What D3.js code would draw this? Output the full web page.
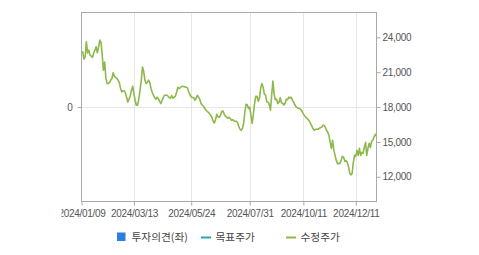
<!DOCTYPE html>
<html>
<head>
<meta charset="utf-8">
<script src="https://cdn.jsdelivr.net/npm/d3@7"></script>
<style>
  body { margin: 0; background: #fff; }
  svg { display: block; }
  .tick text { fill: #555; }
</style>
</head>
<body>
<svg width="479" height="255"></svg>
<script>
// adjusted close, one value per trading day from 2024/01/09
const closes = [
  22620,22760,22130,22330,23620,22650,22900,22470,22390,22270,
  22650,22900,23190,22670,23160,23770,23590,22470,21180,21870,
  20490,20030,20030,20100,20320,20460,20950,20660,20570,20460,
  20320,20100,19630,19300,19410,19410,19220,18850,18440,18680,
  18980,19450,19800,19110,18590,18160,18160,18680,19450,20230,
  21440,21090,20320,20030,20140,20320,20140,19600,19280,19020,
  18810,18680,18850,18720,18500,18300,18550,18760,19020,19020,
  19020,18930,18810,18760,18980,18760,18850,18930,19280,19710,
  19600,19670,19750,19800,19750,19740,19710,19630,19300,19060,
  18870,18820,18810,18590,18740,19020,18850,18680,18330,18160,
  18070,17900,17730,17640,17550,17420,17290,17120,16780,16630,
  16950,17380,17150,17120,17290,17600,17670,17420,17210,17150,
  17040,17120,17010,16860,16910,16820,16780,16780,16670,16350,
  16090,16000,16150,16600,17550,18240,18200,17870,17990,17290,
  16600,17380,18330,18930,18930,18500,18760,19630,20030,19710,
  19110,19020,18440,18420,18240,17730,19020,20230,19110,18630,
  18680,18300,18420,18810,18370,18330,18160,18330,18680,18630,
  18850,18760,18850,18590,18420,18200,18030,17940,17900,17870,
  17770,17600,17420,17250,17120,17040,16910,16780,16560,16350,
  16130,16000,16090,16090,16090,16170,16220,16260,16430,16430,
  16260,16000,15830,15570,14960,14450,15140,14270,13840,13410,
  13130,13130,13150,13410,13760,13670,13330,13410,13240,12890,
  12320,12160,12290,13240,13840,13760,14270,13840,14450,13840,
  14100,14020,14530,14960,13840,14450,14880,14530,15050,15140,
  15440,15660,15480
];

const tickIdx = [0, 43, 90, 138, 182, 225];
const tickLabels = ["2024/01/09", "2024/03/13", "2024/05/24", "2024/07/31", "2024/10/11", "2024/12/11"];
const priceTicks = [12000, 15000, 18000, 21000, 24000];
const opinionTicks = [0];

const legendNames = ["투자의견(좌)", "목표주가", "수정주가"];
const legendColors = ["#2b7de1", "#26a5b5", "#8db84a"];

const plotL = 81.5, plotR = 376.5, plotT = 12.5, plotB = 201.5;

const svg = d3.select("svg");

const x = d3.scaleLinear().domain([0, closes.length - 1]).range([plotL, plotR]);
const yR = d3.scaleLinear().domain([9870, 26140]).range([plotB, plotT]);
const yL = d3.scaleLinear().domain([-1, 1]).range([plotB, plotT]);

// grid
svg.append("g")
  .selectAll("line")
  .data(tickIdx.slice(1))
  .join("line")
  .attr("x1", d => Math.round(x(d)) + 0.5).attr("x2", d => Math.round(x(d)) + 0.5)
  .attr("y1", plotT).attr("y2", plotB)
  .attr("stroke", "#e6e6e6");

svg.append("g")
  .selectAll("line")
  .data(opinionTicks)
  .join("line")
  .attr("x1", plotL).attr("x2", plotR)
  .attr("y1", d => Math.round(yL(d)) + 0.5).attr("y2", d => Math.round(yL(d)) + 0.5)
  .attr("stroke", "#e6e6e6");

// price line
const line = d3.line()
  .x((d, i) => x(i))
  .y(d => yR(d));

svg.append("path")
  .datum(closes)
  .attr("fill", "none")
  .attr("stroke", legendColors[2])
  .attr("stroke-width", 1.6)
  .attr("stroke-linejoin", "round")
  .attr("d", line);

// frame
svg.append("rect")
  .attr("x", plotL).attr("y", plotT)
  .attr("width", plotR - plotL).attr("height", plotB - plotT)
  .attr("fill", "none")
  .attr("stroke", "#aaa");

// axes
const styleAxis = g => {
  g.select(".domain").remove();
  g.selectAll(".tick line").attr("stroke", "#aaa");
  g.selectAll(".tick text")
    .attr("font-family", "'Liberation Sans', Arial, sans-serif")
    .attr("font-size", "10px")
    .attr("letter-spacing", "-0.3px");
};

svg.append("defs").append("clipPath").attr("id", "clipx")
  .append("rect").attr("x", 61.5).attr("y", 0).attr("width", 419).attr("height", 255);

svg.append("g")
  .attr("transform", `translate(0,${plotB})`)
  .attr("clip-path", "url(#clipx)")
  .call(d3.axisBottom(x).tickValues(tickIdx).tickSize(4).tickPadding(4)
    .tickFormat((d, i) => tickLabels[i]))
  .call(styleAxis);

svg.append("g")
  .attr("transform", `translate(${plotR},0)`)
  .call(d3.axisRight(yR).tickValues(priceTicks).tickSize(4).tickPadding(2)
    .tickFormat(d3.format(",")))
  .call(styleAxis);

svg.append("g")
  .attr("transform", `translate(${plotL},0)`)
  .call(d3.axisLeft(yL).tickValues(opinionTicks).tickSize(4).tickPadding(5)
    .tickFormat(d3.format("d")))
  .call(styleAxis);

// legend
const legendX = [117, 201, 286];
const legendY = 237;
const lg = svg.append("g")
  .attr("font-family", "'Noto Sans CJK KR', 'Noto Sans', sans-serif")
  .attr("font-size", "10.7px")
  .attr("fill", "#444");

legendNames.forEach((name, i) => {
  const item = lg.append("g").attr("transform", `translate(${legendX[i]},${legendY})`);
  if (i === 0) {
    item.append("rect").attr("x", 0).attr("y", -4.5).attr("width", 8.5).attr("height", 8.5)
      .attr("fill", legendColors[i]);
  } else {
    item.append("line").attr("x1", 0).attr("x2", 10).attr("y1", 0.5).attr("y2", 0.5)
      .attr("stroke", legendColors[i]).attr("stroke-width", 2);
  }
  item.append("text").attr("x", 14.5).attr("dy", "0.36em").text(name);
});
</script>
</body>
</html>
